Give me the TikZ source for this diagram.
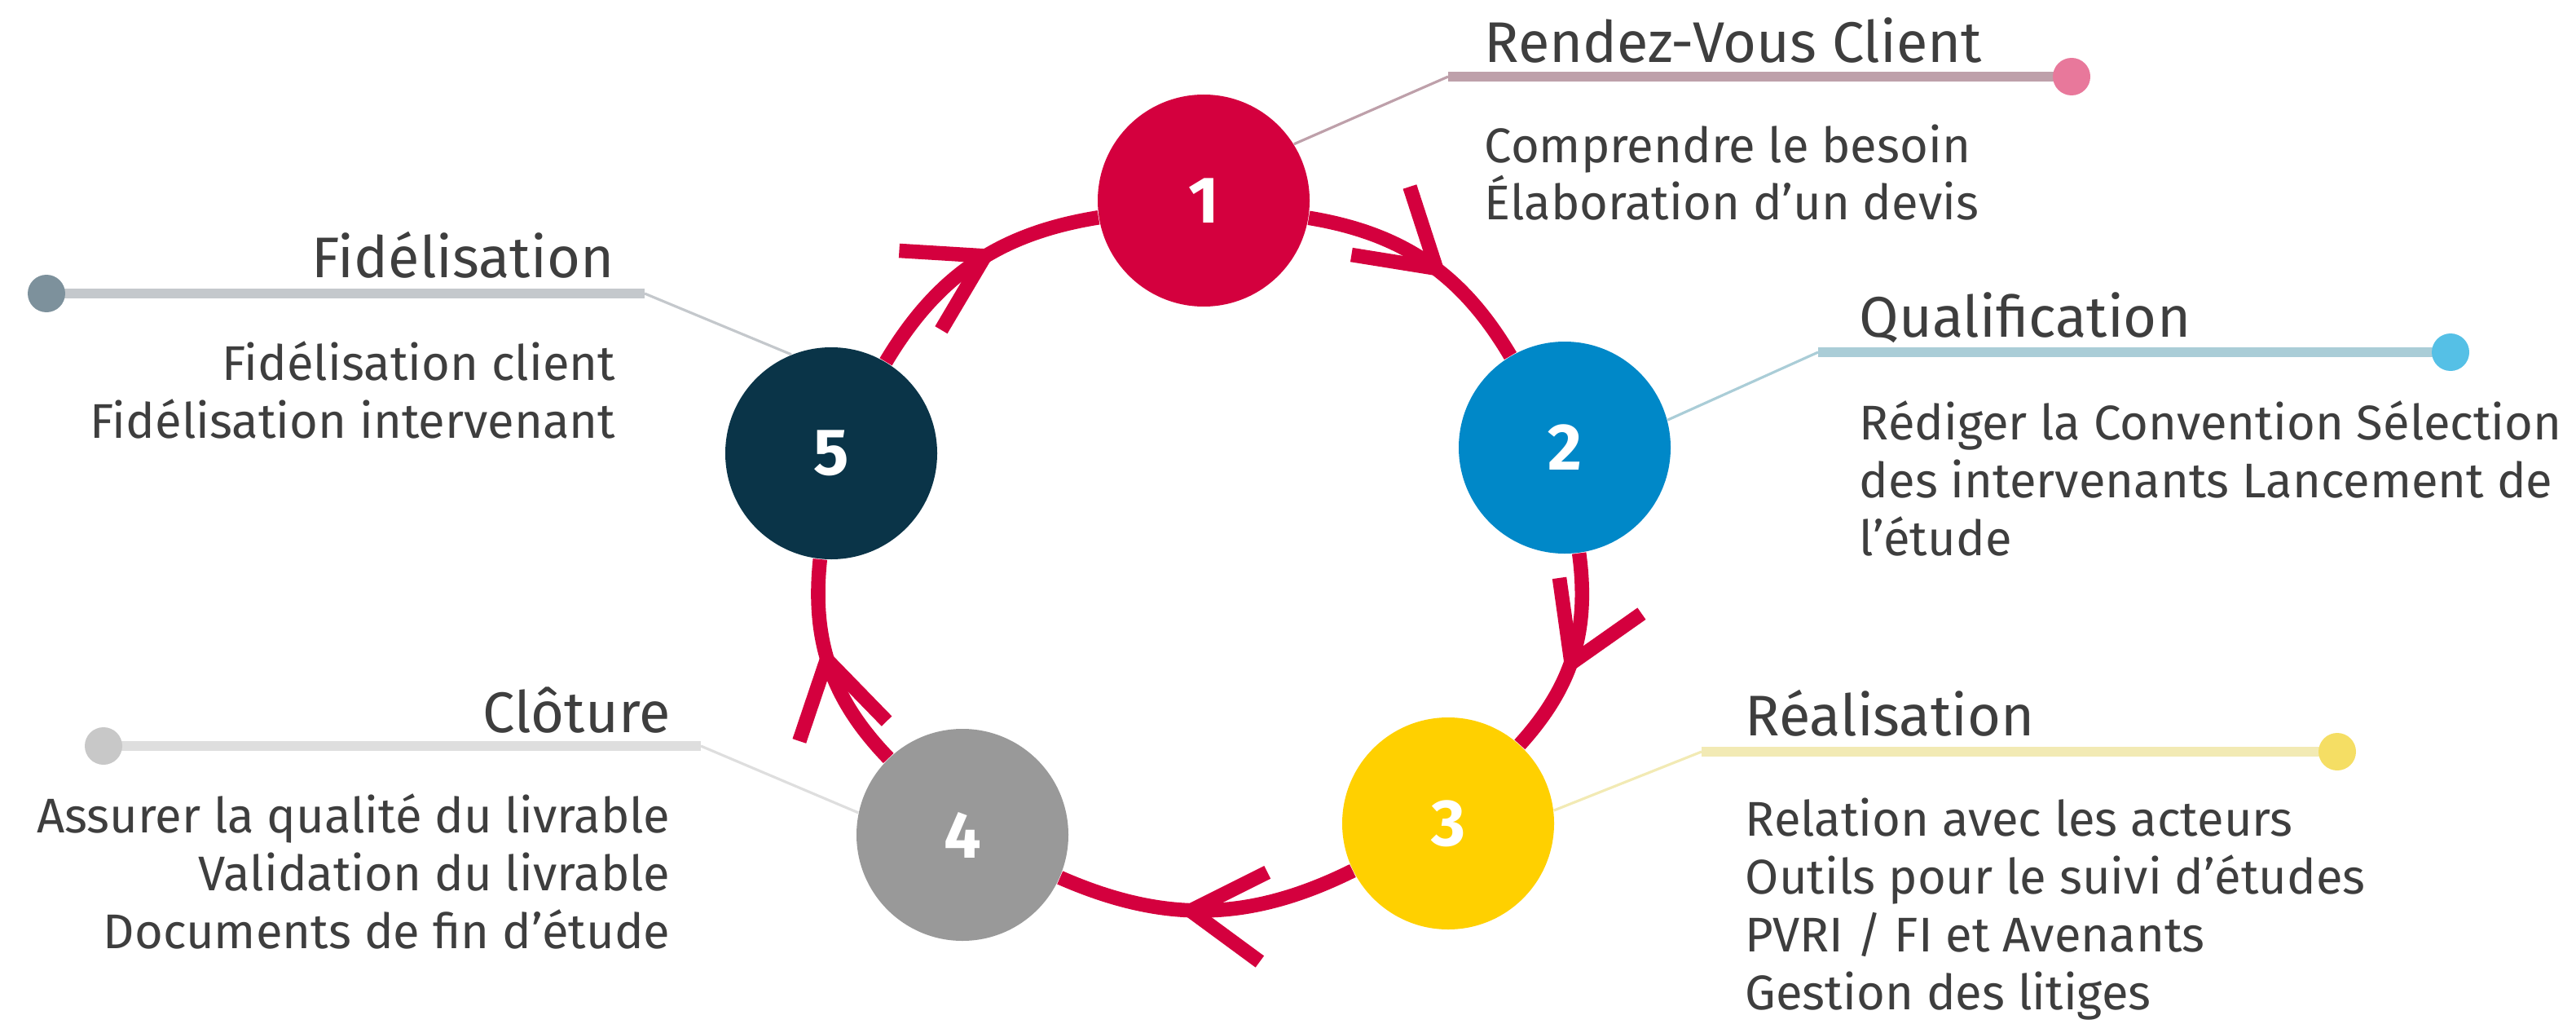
\documentclass[tikz,border=0pt]{standalone}
\usepackage{fontspec}
\setmainfont{Fira Sans}
\usetikzlibrary{arrows.meta,decorations.markings}

\definecolor{rouge}{RGB}{212,0,62}
\definecolor{bleu}{RGB}{0,136,200}
\definecolor{jaune}{RGB}{255,208,0}
\definecolor{gris}{RGB}{153,153,153}
\definecolor{marine}{RGB}{10,52,72}
\definecolor{texte}{RGB}{62,62,62}
\definecolor{rose}{RGB}{232,120,155}
\definecolor{rosepale}{RGB}{190,160,170}
\definecolor{ciel}{RGB}{85,192,230}
\definecolor{cielpale}{RGB}{170,205,215}
\definecolor{jaunepale}{RGB}{242,234,180}
\definecolor{jauneclair}{RGB}{245,222,100}
\definecolor{grispale}{RGB}{222,222,222}
\definecolor{grisclair}{RGB}{200,200,200}
\definecolor{ardoise}{RGB}{125,145,156}
\definecolor{ardoisepale}{RGB}{196,200,204}

\tikzset{
	etape/.style={circle,minimum size=2.6cm,inner sep=0pt,text=white,font=\fontsize{23}{26}\selectfont\bfseries},
	fleche/.style={rouge,line width=5pt,postaction={decorate},
		decoration={markings,mark=at position 0.6 with {\arrow{Straight Barb[length=9mm,width=11mm]}}}},
	titre/.style={text=texte,inner sep=0pt,font=\fontsize{20}{24}\selectfont},
	corps/.style={text=texte,inner sep=0pt,font=\fontsize{17}{20.2}\selectfont},
	renvoi/.style={line width=0.9pt},
	trait/.style={line width=3.4pt}
}

\begin{document}
\begin{tikzpicture}
\useasboundingbox (0,0) rectangle (31.61,-12.56);
% Etape 1
\draw(14.77,-2.46)node[etape,fill=rouge](node rdv){1}
		 % Etape 2
		 (19.20,-5.49)node[etape,fill=bleu](node qualif){2}
		 % Etape 3
		 (17.77,-10.10)node[etape,fill=jaune](node real){3}
		 % Etape 4
		 (11.81,-10.24)node[etape,fill=gris](node clot){4}
		 % Etape 5
		 (10.20,-5.56)node[etape,fill=marine](node fidel){5};

% Cycle
\draw[fleche](node rdv) to[bend left=25] (node qualif);
\draw[fleche](node qualif) to[bend left=25] (node real);
\draw[fleche](node real) to[bend left=25] (node clot);
\draw[fleche](node clot) to[bend left=25] (node fidel);
\draw[fleche](node fidel) to[bend left=25] (node rdv);

% Rendez-vous client
\coordinate (coude rdv) at (17.77,-0.94);
\coordinate (bout rdv) at (25.42,-0.94);
\draw[renvoi,rosepale](node rdv.32)--(coude rdv);
\draw[trait,rosepale](coude rdv)--(bout rdv);
\fill[rose](bout rdv)circle(0.23);
\node[titre,anchor=base west](titre rdv) at (18.21,-0.77){Rendez-Vous Client};
\node[corps,anchor=base west,align=left](corps rdv) at (18.21,-2.70){Comprendre le besoin\\Élaboration d’un devis};

% Qualification
\coordinate (coude qualif) at (22.31,-4.32);
\coordinate (bout qualif) at (30.07,-4.32);
\draw[renvoi,cielpale](node qualif.15)--(coude qualif);
\draw[trait,cielpale](coude qualif)--(bout qualif);
\fill[ciel](bout qualif)circle(0.23);
\node[titre,anchor=base west](titre qualif) at (22.81,-4.13){Qualification};
\node[corps,anchor=base west,align=left](corps qualif) at (22.81,-6.81){Rédiger la Convention Sélection\\des intervenants Lancement de\\l’étude};

% Realisation
\coordinate (coude real) at (20.88,-9.22);
\coordinate (bout real) at (28.68,-9.22);
\draw[renvoi,jaunepale](node real.7)--(coude real);
\draw[trait,jaunepale](coude real)--(bout real);
\fill[jauneclair](bout real)circle(0.23);
\node[titre,anchor=base west](titre real) at (21.41,-9.02){Réalisation};
\node[corps,anchor=base west,align=left](corps real) at (21.41,-12.38){Relation avec les acteurs\\Outils pour le suivi d’études\\PVRI / FI et Avenants\\Gestion des litiges};

% Cloture
\coordinate (coude clot) at (8.60,-9.15);
\coordinate (bout clot) at (1.27,-9.15);
\draw[renvoi,grispale](node clot.168)--(coude clot);
\draw[trait,grispale](coude clot)--(bout clot);
\fill[grisclair](bout clot)circle(0.23);
\node[titre,anchor=base east](titre clot) at (8.23,-8.98){Clôture};
\node[corps,anchor=base east,align=right](corps clot) at (8.23,-11.63){Assurer la qualité du livrable\\Validation du livrable\\Documents de fin d’étude};

% Fidelisation
\coordinate (coude fidel) at (7.91,-3.60);
\coordinate (bout fidel) at (0.57,-3.60);
\draw[renvoi,ardoisepale](node fidel.112)--(coude fidel);
\draw[trait,ardoisepale](coude fidel)--(bout fidel);
\fill[ardoise](bout fidel)circle(0.23);
\node[titre,anchor=base east](titre fidel) at (7.54,-3.40){Fidélisation};
\node[corps,anchor=base east,align=right](corps fidel) at (7.56,-5.37){Fidélisation client\\Fidélisation intervenant};
\end{tikzpicture}
\end{document}
